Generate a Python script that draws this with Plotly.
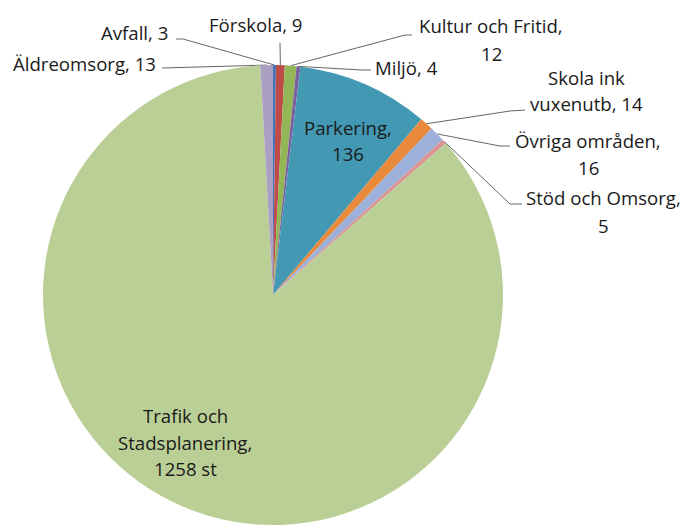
import math
import plotly.graph_objects as go

# ---- data ----
categories = ["Avfall", "Förskola", "Kultur och Fritid", "Miljö", "Parkering",
              "Skola ink vuxenutb", "Övriga områden", "Stöd och Omsorg",
              "Trafik och Stadsplanering", "Äldreomsorg"]
values = [3, 9, 12, 4, 136, 14, 16, 5, 1258, 13]

# ---- style ----
colors = ["#3F74B9", "#BE4B48", "#93B656", "#7C5F9F", "#4398B4", "#E8893C",
          "#9DB0DA", "#D99593", "#BACF95", "#ABA0C4"]
W, H = 686, 525
CX, CY, R = 273, 295, 230
FONT = "Open Sans"
FS = 18.6
TXT = "#1a1a1a"
LINE = "#666666"

# label layout: template ("|" = line break), text anchor, line positions, leader elbow
label_layout = {
    "Avfall": dict(tpl="{c}, {v}", anchor="right", x=170, ys=[32], leader=[(176, 39), (183, 39)]),
    "Förskola": dict(tpl="{c}, {v}", anchor="center", x=256, ys=[24], leader=[(280, 43)]),
    "Kultur och Fritid": dict(tpl="{c},|{v}", anchor="center", x=491, ys=[25, 53], leader=[(412, 35), (405, 35)]),
    "Miljö": dict(tpl="{c}, {v}", anchor="left", x=373, ys=[67], leader=[(371, 70), (362, 70)]),
    "Parkering": dict(tpl="{c},|{v}", anchor="center", x=348, ys=[127, 153], leader=None),
    "Skola ink vuxenutb": dict(tpl="Skola ink|vuxenutb, {v}", anchor="center", x=586, ys=[77, 103], leader=[(525, 110), (510, 111)]),
    "Övriga områden": dict(tpl="{c},|{v}", anchor="center", x=588, ys=[140, 167], leader=[(510, 146), (500, 146)]),
    "Stöd och Omsorg": dict(tpl="{c},|{v}", anchor="center", x=603, ys=[197, 225], leader=[(522, 204), (510, 204)]),
    "Trafik och Stadsplanering": dict(tpl="Trafik och|Stadsplanering,|{v} st", anchor="center", x=185, ys=[415, 442, 468], leader=None),
    "Äldreomsorg": dict(tpl="{c}, {v}", anchor="right", x=158, ys=[63], leader=[(162, 68)]),
}

fig = go.Figure()

fig.add_trace(go.Pie(
    labels=categories, values=values, sort=False, direction="clockwise", rotation=0,
    marker=dict(colors=colors, line=dict(width=0)), textinfo="none", hoverinfo="label+value",
    domain=dict(x=[(CX - R) / W, (CX + R) / W], y=[(H - CY - R) / H, (H - CY + R) / H]),
    showlegend=False,
))

total = sum(values)
cum = 0
annotations = []
for cat, val in zip(categories, values):
    mid = (cum + val / 2) / total * 2 * math.pi
    cum += val
    ax_pt = CX + R * math.sin(mid)
    ay_pt = CY - R * math.cos(mid)
    lay = label_layout[cat]
    if lay["leader"]:
        xs = [p[0] for p in lay["leader"]] + [ax_pt]
        ys = [p[1] for p in lay["leader"]] + [ay_pt]
        fig.add_trace(go.Scatter(x=xs, y=ys, mode="lines", line=dict(color=LINE, width=1),
                                 hoverinfo="skip", showlegend=False))
    lines = lay["tpl"].format(c=cat, v=val).split("|")
    for line, y in zip(lines, lay["ys"]):
        annotations.append(dict(x=lay["x"], y=y, xref="x", yref="y", text=line, showarrow=False,
                                xanchor=lay["anchor"], yanchor="middle",
                                font=dict(family=FONT, size=FS, color=TXT)))

fig.update_layout(
    width=W, height=H, margin=dict(l=0, r=0, t=0, b=0),
    paper_bgcolor="white", plot_bgcolor="rgba(0,0,0,0)",
    xaxis=dict(range=[0, W], visible=False, domain=[0, 1], fixedrange=True),
    yaxis=dict(range=[H, 0], visible=False, domain=[0, 1], fixedrange=True),
    annotations=annotations,
)

fig.write_html("out.html", config={"displayModeBar": False},
               post_script="document.body.style.margin='0';")
